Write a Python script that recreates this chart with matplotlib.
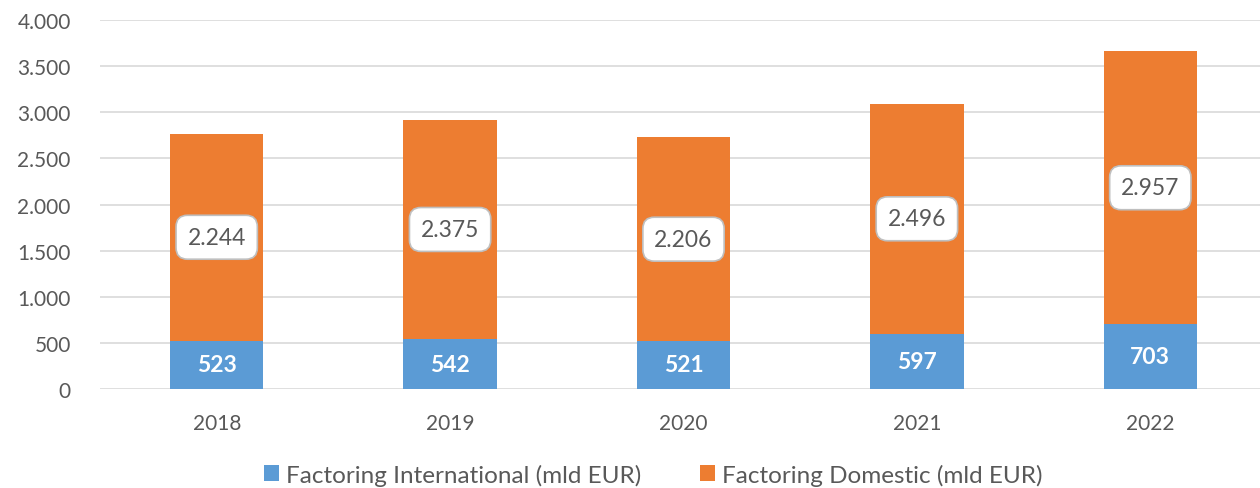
#!/usr/bin/env python3

import matplotlib
matplotlib.use("Agg")
import matplotlib.pyplot as plt
import numpy as np

# --- Data ---
years = ["2018", "2019", "2020", "2021", "2022"]
international = [523, 542, 521, 597, 703]
domestic = [2244, 2375, 2206, 2496, 2957]
yticks = [0, 500, 1000, 1500, 2000, 2500, 3000, 3500, 4000]

# --- Style ---
BLUE = "#5B9BD5"
ORANGE = "#ED7D31"
TEXT = "#595959"
GRID = "#D9D9D9"

plt.rcParams["font.family"] = ["Lato", "DejaVu Sans"]


def fmt(v):
    """Format numbers with dot as thousands separator."""
    return f"{v:,}".replace(",", ".")


fig = plt.figure(figsize=(12.6, 4.89), dpi=100)
ax = fig.add_axes([100 / 1260, 99 / 489, 1160 / 1260, 369 / 489])

x = np.arange(len(years))
width = 0.4

ax.bar(x, international, width, color=BLUE, label="Factoring International (mld EUR)", zorder=2)
ax.bar(x, domestic, width, bottom=international, color=ORANGE,
       label="Factoring Domestic (mld EUR)", zorder=2)

for xi, i_val, d_val in zip(x, international, domestic):
    ax.text(xi, i_val / 2, fmt(i_val), ha="center", va="center",
            color="white", fontsize=16.5, fontweight="bold", zorder=3)
    ax.text(xi, i_val + d_val / 2, fmt(d_val), ha="center", va="center",
            color=TEXT, fontsize=16.5, zorder=3,
            bbox=dict(boxstyle="round,pad=0.5,rounding_size=0.5",
                      facecolor="white", edgecolor="#BFBFBF", linewidth=1.2))

ax.set_ylim(0, 4000)
ax.set_xlim(-0.5, 4.47)
ax.set_yticks(yticks)
ax.set_yticklabels([fmt(v) for v in yticks])
ax.set_xticks(x)
ax.set_xticklabels(years)
ax.tick_params(axis="both", length=0, colors=TEXT, labelsize=15)
ax.tick_params(axis="y", pad=21)
ax.tick_params(axis="x", pad=17)

ax.grid(axis="y", color=GRID, linewidth=1.2, zorder=0)
for side in ["top", "right", "left", "bottom"]:
    ax.spines[side].set_visible(False)

leg = ax.legend(loc="center", bbox_to_anchor=(0.477, -0.232), ncol=2,
                frameon=False, fontsize=17.5, handlelength=0.62, handleheight=0.62,
                columnspacing=2.4, handletextpad=0.3, borderpad=0)
for t in leg.get_texts():
    t.set_color(TEXT)

fig.savefig("out.png", dpi=100)
